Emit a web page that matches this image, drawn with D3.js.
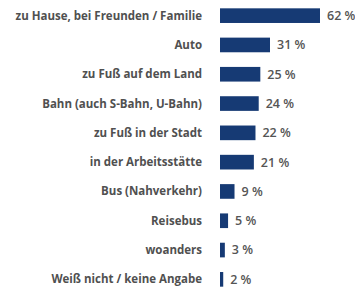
<!DOCTYPE html>
<html>
<head>
<meta charset="utf-8">
<script src="https://cdn.jsdelivr.net/npm/d3@7"></script>
<style>
  body { margin: 0; background: #fff; }
</style>
</head>
<body>
<div id="chart"></div>
<script>
// categories and values
const categories = [
  "zu Hause, bei Freunden / Familie",
  "Auto",
  "zu Fuß auf dem Land",
  "Bahn (auch S-Bahn, U-Bahn)",
  "zu Fuß in der Stadt",
  "in der Arbeitsstätte",
  "Bus (Nahverkehr)",
  "Reisebus",
  "woanders",
  "Weiß nicht / keine Angabe"
];
const values = [62, 31, 25, 24, 22, 21, 9, 5, 3, 2];

const width = 355, height = 288;
const barLeft = 220;

const data = categories.map((c, i) => ({ cat: c, val: values[i] }));

const svg = d3.select("#chart").append("svg")
  .attr("width", width)
  .attr("height", height);

// 62 % spans roughly 100 px
const x = d3.scaleLinear()
  .domain([0, 62])
  .range([barLeft, barLeft + 100]);

const y = d3.scaleBand()
  .domain(categories)
  .range([1, 294])
  .paddingInner(0.5)
  .paddingOuter(0.25);

svg.selectAll("rect.bar")
  .data(data)
  .enter().append("rect")
    .attr("class", "bar")
    .attr("x", x(0))
    .attr("y", d => y(d.cat))
    .attr("width", d => x(d.val) - x(0))
    .attr("height", y.bandwidth())
    .style("fill", "#163a74");

// category labels, right aligned left of the bars
svg.selectAll("text.cat")
  .data(data)
  .enter().append("text")
    .attr("class", "cat")
    .attr("x", barLeft - 18)
    .attr("y", d => y(d.cat) + y.bandwidth() / 2)
    .attr("dy", "0.35em")
    .attr("text-anchor", "end")
    .style("font-family", "'Open Sans', sans-serif")
    .style("font-weight", "bold")
    .style("font-size", "11.5px")
    .style("fill", "#505050")
    .text(d => d.cat);

// value labels
svg.selectAll("text.val")
  .data(data)
  .enter().append("text")
    .attr("class", "val")
    .attr("x", d => x(d.val) + 7)
    .attr("y", d => y(d.cat) + y.bandwidth() / 2)
    .attr("dy", "0.35em")
    .style("font-family", "'Open Sans', sans-serif")
    .style("font-weight", "600")
    .style("font-size", "12.5px")
    .style("fill", "#555")
    .text(d => d.val + " %");
</script>
</body>
</html>
